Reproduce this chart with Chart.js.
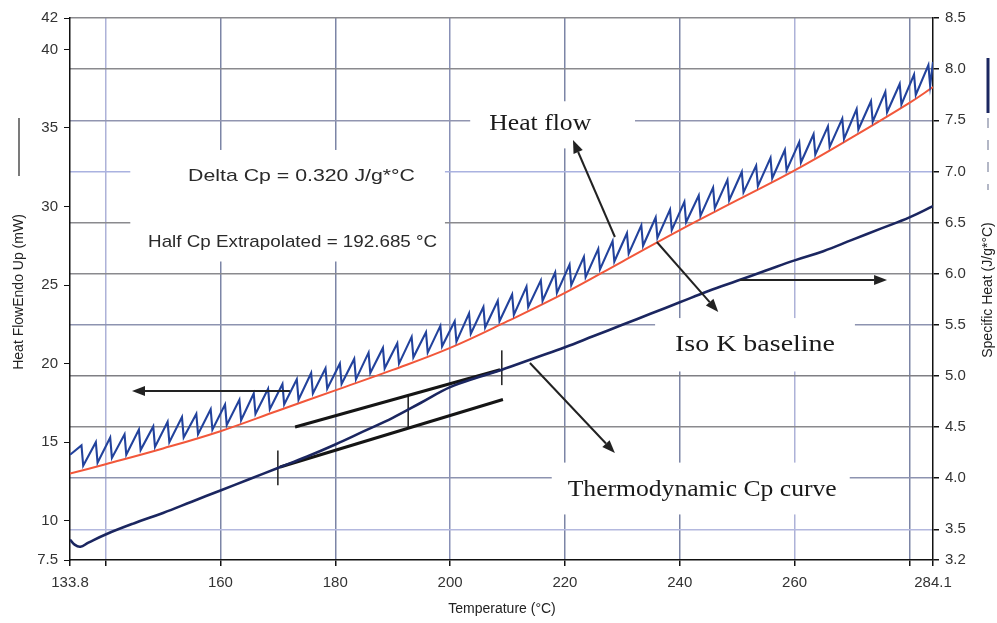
<!DOCTYPE html>
<html>
<head>
<meta charset="utf-8">
<script src="https://cdn.jsdelivr.net/npm/chart.js"></script>
<style>
  html, body { margin: 0; padding: 0; background: #fff; }
  #wrap { width: 997px; height: 623px; }
</style>
</head>
<body>
<div id="wrap"><canvas id="mdscChart" width="997" height="623"></canvas></div>
<script>
  // Axis ticks
  const xTickValues = [133.8, 140, 160, 180, 200, 220, 240, 260, 280, 284.1];
  const xTickLabels = ['133.8', '', '160', '180', '200', '220', '240', '260', '', '284.1'];
  const leftTickValues = [7.5, 10, 15, 20, 25, 30, 35, 40, 42];
  const rightTickValues = [3.2, 3.5, 4.0, 4.5, 5.0, 5.5, 6.0, 6.5, 7.0, 7.5, 8.0, 8.5];

  // Modulated heat flow (mW): spike temperatures, spike tops and bottoms
  const hfSpikeT = [135.8, 138.3, 140.8, 143.3, 145.8, 148.3, 150.8, 153.3, 155.8, 158.3,
                    160.8, 163.3, 165.8, 168.3, 170.8, 173.3, 175.8, 178.3, 180.8, 183.3,
                    185.8, 188.3, 190.8, 193.3, 195.8, 198.3, 200.8, 203.3, 205.8, 208.3,
                    210.8, 213.3, 215.8, 218.3, 220.8, 223.3, 225.8, 228.3, 230.8, 233.3,
                    235.8, 238.3, 240.8, 243.3, 245.8, 248.3, 250.8, 253.3, 255.8, 258.3,
                    260.8, 263.3, 265.8, 268.3, 270.8, 273.3, 275.8, 278.3, 280.8, 283.3];
  const hfTop = [14.8, 15.0, 15.3, 15.5, 15.8, 16.0, 16.3, 16.6, 16.8, 17.1,
                 17.4, 17.7, 18.1, 18.4, 18.7, 19.0, 19.4, 19.7, 20.0, 20.3,
                 20.7, 21.0, 21.3, 21.7, 22.0, 22.4, 22.7, 23.2, 23.6, 24.0,
                 24.4, 24.9, 25.3, 25.8, 26.3, 26.8, 27.3, 27.8, 28.3, 28.8,
                 29.3, 29.8, 30.3, 30.7, 31.2, 31.7, 32.2, 32.6, 33.1, 33.6,
                 34.1, 34.6, 35.1, 35.6, 36.2, 36.7, 37.3, 37.8, 38.4, 39.0];
  const hfBottom = [13.5, 13.7, 14.0, 14.2, 14.5, 14.7, 15.0, 15.3, 15.5, 15.8,
                    16.1, 16.4, 16.8, 17.1, 17.4, 17.7, 18.1, 18.4, 18.7, 19.0,
                    19.4, 19.7, 20.0, 20.4, 20.7, 21.1, 21.4, 21.9, 22.3, 22.7,
                    23.1, 23.6, 24.0, 24.5, 25.0, 25.5, 26.0, 26.5, 27.0, 27.5,
                    28.0, 28.5, 29.0, 29.4, 29.9, 30.4, 30.9, 31.3, 31.8, 32.3,
                    32.8, 33.3, 33.8, 34.3, 34.9, 35.4, 36.0, 36.5, 37.1, 37.7];
  const hfEndT = [133.8, 284.1];
  const hfEndV = [14.2, 39.2];
  const spikeWidth = 0.3; // degC between top and bottom of a spike

  // Iso K baseline (mW)
  const baseT = [133.8, 140, 150, 160, 170, 180, 190, 200, 210, 220, 230, 240, 250, 260, 270, 280, 284.1];
  const baseV = [13.0, 13.6, 14.6, 15.7, 17.0, 18.3, 19.6, 21.0, 22.7, 24.5, 26.5, 28.5, 30.4, 32.3, 34.4, 36.6, 37.6];

  // Thermodynamic Cp (J/g*C)
  const cpT = [133.8, 134.6, 135.6, 137, 140, 145, 150, 155, 160, 165, 170, 175, 180, 185, 190, 195,
               200, 205, 209, 215, 220, 225, 230, 235, 240, 245, 250, 255, 260, 265, 270, 275, 280, 284.1];
  const cpV = [3.40, 3.35, 3.33, 3.37, 3.45, 3.56, 3.66, 3.77, 3.88, 3.99, 4.10, 4.21, 4.33, 4.46, 4.59, 4.74,
               4.89, 4.99, 5.06, 5.18, 5.28, 5.39, 5.50, 5.61, 5.72, 5.83, 5.93, 6.03, 6.13, 6.22, 6.33, 6.44, 6.55, 6.66];

  // Tangent lines and step markers (right axis)
  const tanUpperT = [173.0, 208.7];
  const tanUpperV = [4.50, 5.06];
  const tanLowerT = [170.4, 209.2];
  const tanLowerV = [4.11, 4.77];
  const markerT = [170.0, 192.7, 209.0];
  const markerLow = [3.93, 4.49, 4.91];
  const markerHigh = [4.27, 4.81, 5.25];

  // Build point lists
  const heatFlowPts = [{ x: hfEndT[0], y: hfEndV[0] }];
  hfSpikeT.forEach((t, i) => {
      heatFlowPts.push({ x: t, y: hfTop[i] });
      heatFlowPts.push({ x: t + spikeWidth, y: hfBottom[i] });
  });
  heatFlowPts.push({ x: hfEndT[1], y: hfEndV[1] });

  const basePts = baseT.map((t, i) => ({ x: t, y: baseV[i] }));
  const cpPts = cpT.map((t, i) => ({ x: t, y: cpV[i] }));

  const markerSets = markerT.map((t, i) => ({
      data: [{ x: t, y: markerLow[i] }, { x: t, y: markerHigh[i] }],
      yAxisID: 'y2', borderColor: '#2a2a2a', borderWidth: 1.6, pointRadius: 0
  }));

  // Grid colours
  const xGridColors = { 140: '#adb2d8', 160: '#7c85a6', 180: '#7c85a6', 200: '#8890b6', 220: '#7c85a6',
                        240: '#7c85a6', 260: '#adb2d8', 280: '#7c85a6' };
  const yGridColors = { 3.5: '#b3b8de', 4: '#8d93b0', 4.5: '#8a8a8e', 5: '#7f7f84', 5.5: '#8d93b0',
                        6: '#8a8a8e', 6.5: '#8a8a8e', 7: '#aab2e0', 7.5: '#9195b0', 8: '#8a8a8e', 8.5: '#8a8a8e' };

  // Annotation layout (temperature, heat flow units)
  const noteBoxes = [[203.5, 36.7, 232.2, 33.7], [235.7, 22.9, 270.5, 19.5],
                     [217.7, 13.7, 269.6, 10.4], [144.3, 33.6, 199.1, 26.5]];
  const noteTexts = [
      { text: 'Heat flow', t: 215.7, v: 35.25, w: 102, font: '24px "Liberation Serif"', align: 'center' },
      { text: 'Iso K baseline', t: 253.1, v: 21.19, w: 160, font: '24px "Liberation Serif"', align: 'center' },
      { text: 'Thermodynamic Cp curve', t: 243.9, v: 11.96, w: 269, font: '24px "Liberation Serif"', align: 'center' },
      { text: 'Delta Cp = 0.320 J/g*°C', t: 154.35, v: 31.94, w: 227, font: '17px "Liberation Sans"', align: 'left' },
      { text: 'Half Cp Extrapolated = 192.685 °C', t: 147.4, v: 27.74, w: 289, font: '17px "Liberation Sans"', align: 'left' }
  ];
  const arrows = [[228.7, 28.06, 221.4, 34.23], [236.0, 27.74, 246.7, 23.29], [213.9, 20.04, 228.7, 14.31],
                  [172.1, 18.26, 144.6, 18.26], [250.5, 25.32, 276.1, 25.32]];

  function fitText(ctx, text, x, y, width, font, align) {
      ctx.save();
      ctx.font = font;
      const natural = ctx.measureText(text).width;
      const sx = width / natural;
      ctx.translate(align === 'center' ? x - width / 2 : x, y);
      ctx.scale(sx, 1);
      ctx.textAlign = 'left';
      ctx.textBaseline = 'middle';
      ctx.fillText(text, 0, 0);
      ctx.restore();
  }

  const notesPlugin = {
      id: 'notes',
      beforeDatasetsDraw(chart) {
          const { ctx, scales } = chart;
          ctx.save();
          ctx.fillStyle = '#fff';
          noteBoxes.forEach(b => {
              const x1 = scales.x.getPixelForValue(b[0]), y1 = scales.y.getPixelForValue(b[1]);
              const x2 = scales.x.getPixelForValue(b[2]), y2 = scales.y.getPixelForValue(b[3]);
              ctx.fillRect(x1, y1, x2 - x1, y2 - y1);
          });
          ctx.restore();
      },
      afterDatasetsDraw(chart) {
          const { ctx, scales } = chart;
          ctx.save();
          ctx.strokeStyle = '#222';
          ctx.fillStyle = '#222';
          ctx.lineWidth = 2;
          arrows.forEach(a => {
              const x1 = scales.x.getPixelForValue(a[0]), y1 = scales.y.getPixelForValue(a[1]);
              const x2 = scales.x.getPixelForValue(a[2]), y2 = scales.y.getPixelForValue(a[3]);
              const ang = Math.atan2(y2 - y1, x2 - x1);
              const len = 13, half = 5;
              const bx = x2 - len * Math.cos(ang), by = y2 - len * Math.sin(ang);
              ctx.beginPath();
              ctx.moveTo(x1, y1);
              ctx.lineTo(bx, by);
              ctx.stroke();
              ctx.beginPath();
              ctx.moveTo(x2, y2);
              ctx.lineTo(bx + half * Math.sin(ang), by - half * Math.cos(ang));
              ctx.lineTo(bx - half * Math.sin(ang), by + half * Math.cos(ang));
              ctx.closePath();
              ctx.fill();
          });
          noteTexts.forEach(n => {
              ctx.fillStyle = n.font.indexOf('Serif') >= 0 ? '#1a1a1a' : '#2a2a2a';
              fitText(ctx, n.text, scales.x.getPixelForValue(n.t), scales.y.getPixelForValue(n.v), n.w, n.font, n.align);
          });
          ctx.restore();
      },
      afterDraw(chart) {
          const { ctx } = chart;
          ctx.save();
          ctx.fillStyle = '#222';
          ctx.font = '14px "Liberation Sans"';
          ctx.textAlign = 'center';
          ctx.textBaseline = 'middle';
          // x title
          ctx.fillText('Temperature (°C)', 502, 609);
          // left title + legend line
          ctx.save();
          ctx.translate(19, 292);
          ctx.rotate(-Math.PI / 2);
          ctx.fillText('Heat FlowEndo Up (mW)', 0, 0);
          ctx.restore();
          ctx.strokeStyle = '#222';
          ctx.lineWidth = 1.2;
          ctx.beginPath();
          ctx.moveTo(19, 118);
          ctx.lineTo(19, 176);
          ctx.stroke();
          // right title + legend lines
          ctx.save();
          ctx.translate(988, 290);
          ctx.rotate(-Math.PI / 2);
          ctx.fillText('Specific Heat (J/g*°C)', 0, 0);
          ctx.restore();
          ctx.strokeStyle = '#1b2660';
          ctx.lineWidth = 3;
          ctx.beginPath();
          ctx.moveTo(988, 58);
          ctx.lineTo(988, 113);
          ctx.stroke();
          ctx.strokeStyle = '#9aa0b4';
          ctx.lineWidth = 1.5;
          ctx.setLineDash([10, 12]);
          ctx.beginPath();
          ctx.moveTo(988, 118);
          ctx.lineTo(988, 190);
          ctx.stroke();
          ctx.restore();
      }
  };

  const tickFont = { family: 'Liberation Sans', size: 15 };

  const mdscConfig = {
      type: 'line',
      data: {
          datasets: [
              { label: 'Heat flow', data: heatFlowPts, yAxisID: 'y', borderColor: '#22429c', borderWidth: 2.1, pointRadius: 0, tension: 0 },
              { label: 'Iso K baseline', data: basePts, yAxisID: 'y', borderColor: '#f2573a', borderWidth: 2, pointRadius: 0, tension: 0.4 },
              { label: 'Thermodynamic Cp', data: cpPts, yAxisID: 'y2', borderColor: '#1b2660', borderWidth: 2.6, pointRadius: 0, tension: 0.4 },
              { label: 'Upper tangent', data: tanUpperT.map((t, i) => ({ x: t, y: tanUpperV[i] })), yAxisID: 'y2', borderColor: '#151515', borderWidth: 3, pointRadius: 0 },
              { label: 'Lower tangent', data: tanLowerT.map((t, i) => ({ x: t, y: tanLowerV[i] })), yAxisID: 'y2', borderColor: '#151515', borderWidth: 3, pointRadius: 0 },
              ...markerSets
          ]
      },
      options: {
          responsive: false,
          animation: false,
          layout: { padding: { top: 18, left: 0, right: 0, bottom: 0 } },
          plugins: { legend: { display: false }, tooltip: { enabled: false } },
          scales: {
              x: {
                  type: 'linear',
                  min: 133.8,
                  max: 284.1,
                  afterBuildTicks: s => { s.ticks = xTickValues.map(v => ({ value: v })); },
                  afterFit: s => { s.height = 63; },
                  ticks: {
                      autoSkip: false, maxRotation: 0, padding: 8, color: '#333', font: tickFont,
                      callback: (v, i) => xTickLabels[i]
                  },
                  grid: {
                      color: c => (c.tick && xGridColors[c.tick.value]) || 'rgba(0,0,0,0)',
                      lineWidth: 1.5,
                      tickColor: '#111',
                      tickLength: 6
                  },
                  border: { color: '#111', width: 1.5 }
              },
              y: {
                  position: 'left',
                  min: 7.5,
                  max: 42,
                  afterBuildTicks: s => { s.ticks = leftTickValues.map(v => ({ value: v })); },
                  afterFit: s => { s.width = 70; },
                  ticks: { color: '#333', font: tickFont, padding: 6, callback: v => String(v) },
                  grid: { drawOnChartArea: false, tickColor: '#111', tickLength: 6 },
                  border: { color: '#111', width: 1.5 }
              },
              y2: {
                  position: 'right',
                  min: 3.2,
                  max: 8.5,
                  afterBuildTicks: s => { s.ticks = rightTickValues.map(v => ({ value: v })); },
                  afterFit: s => { s.width = 64; },
                  ticks: { color: '#333', font: tickFont, padding: 6, callback: v => Number(v).toFixed(1) },
                  grid: {
                      color: c => (c.tick && yGridColors[c.tick.value]) || 'rgba(0,0,0,0)',
                      lineWidth: 1.5,
                      tickColor: '#111',
                      tickLength: 6
                  },
                  border: { color: '#111', width: 1.5 }
              }
          }
      },
      plugins: [notesPlugin]
  };

  const mdscChart = new Chart(document.getElementById('mdscChart'), mdscConfig);
</script>
</body>
</html>
